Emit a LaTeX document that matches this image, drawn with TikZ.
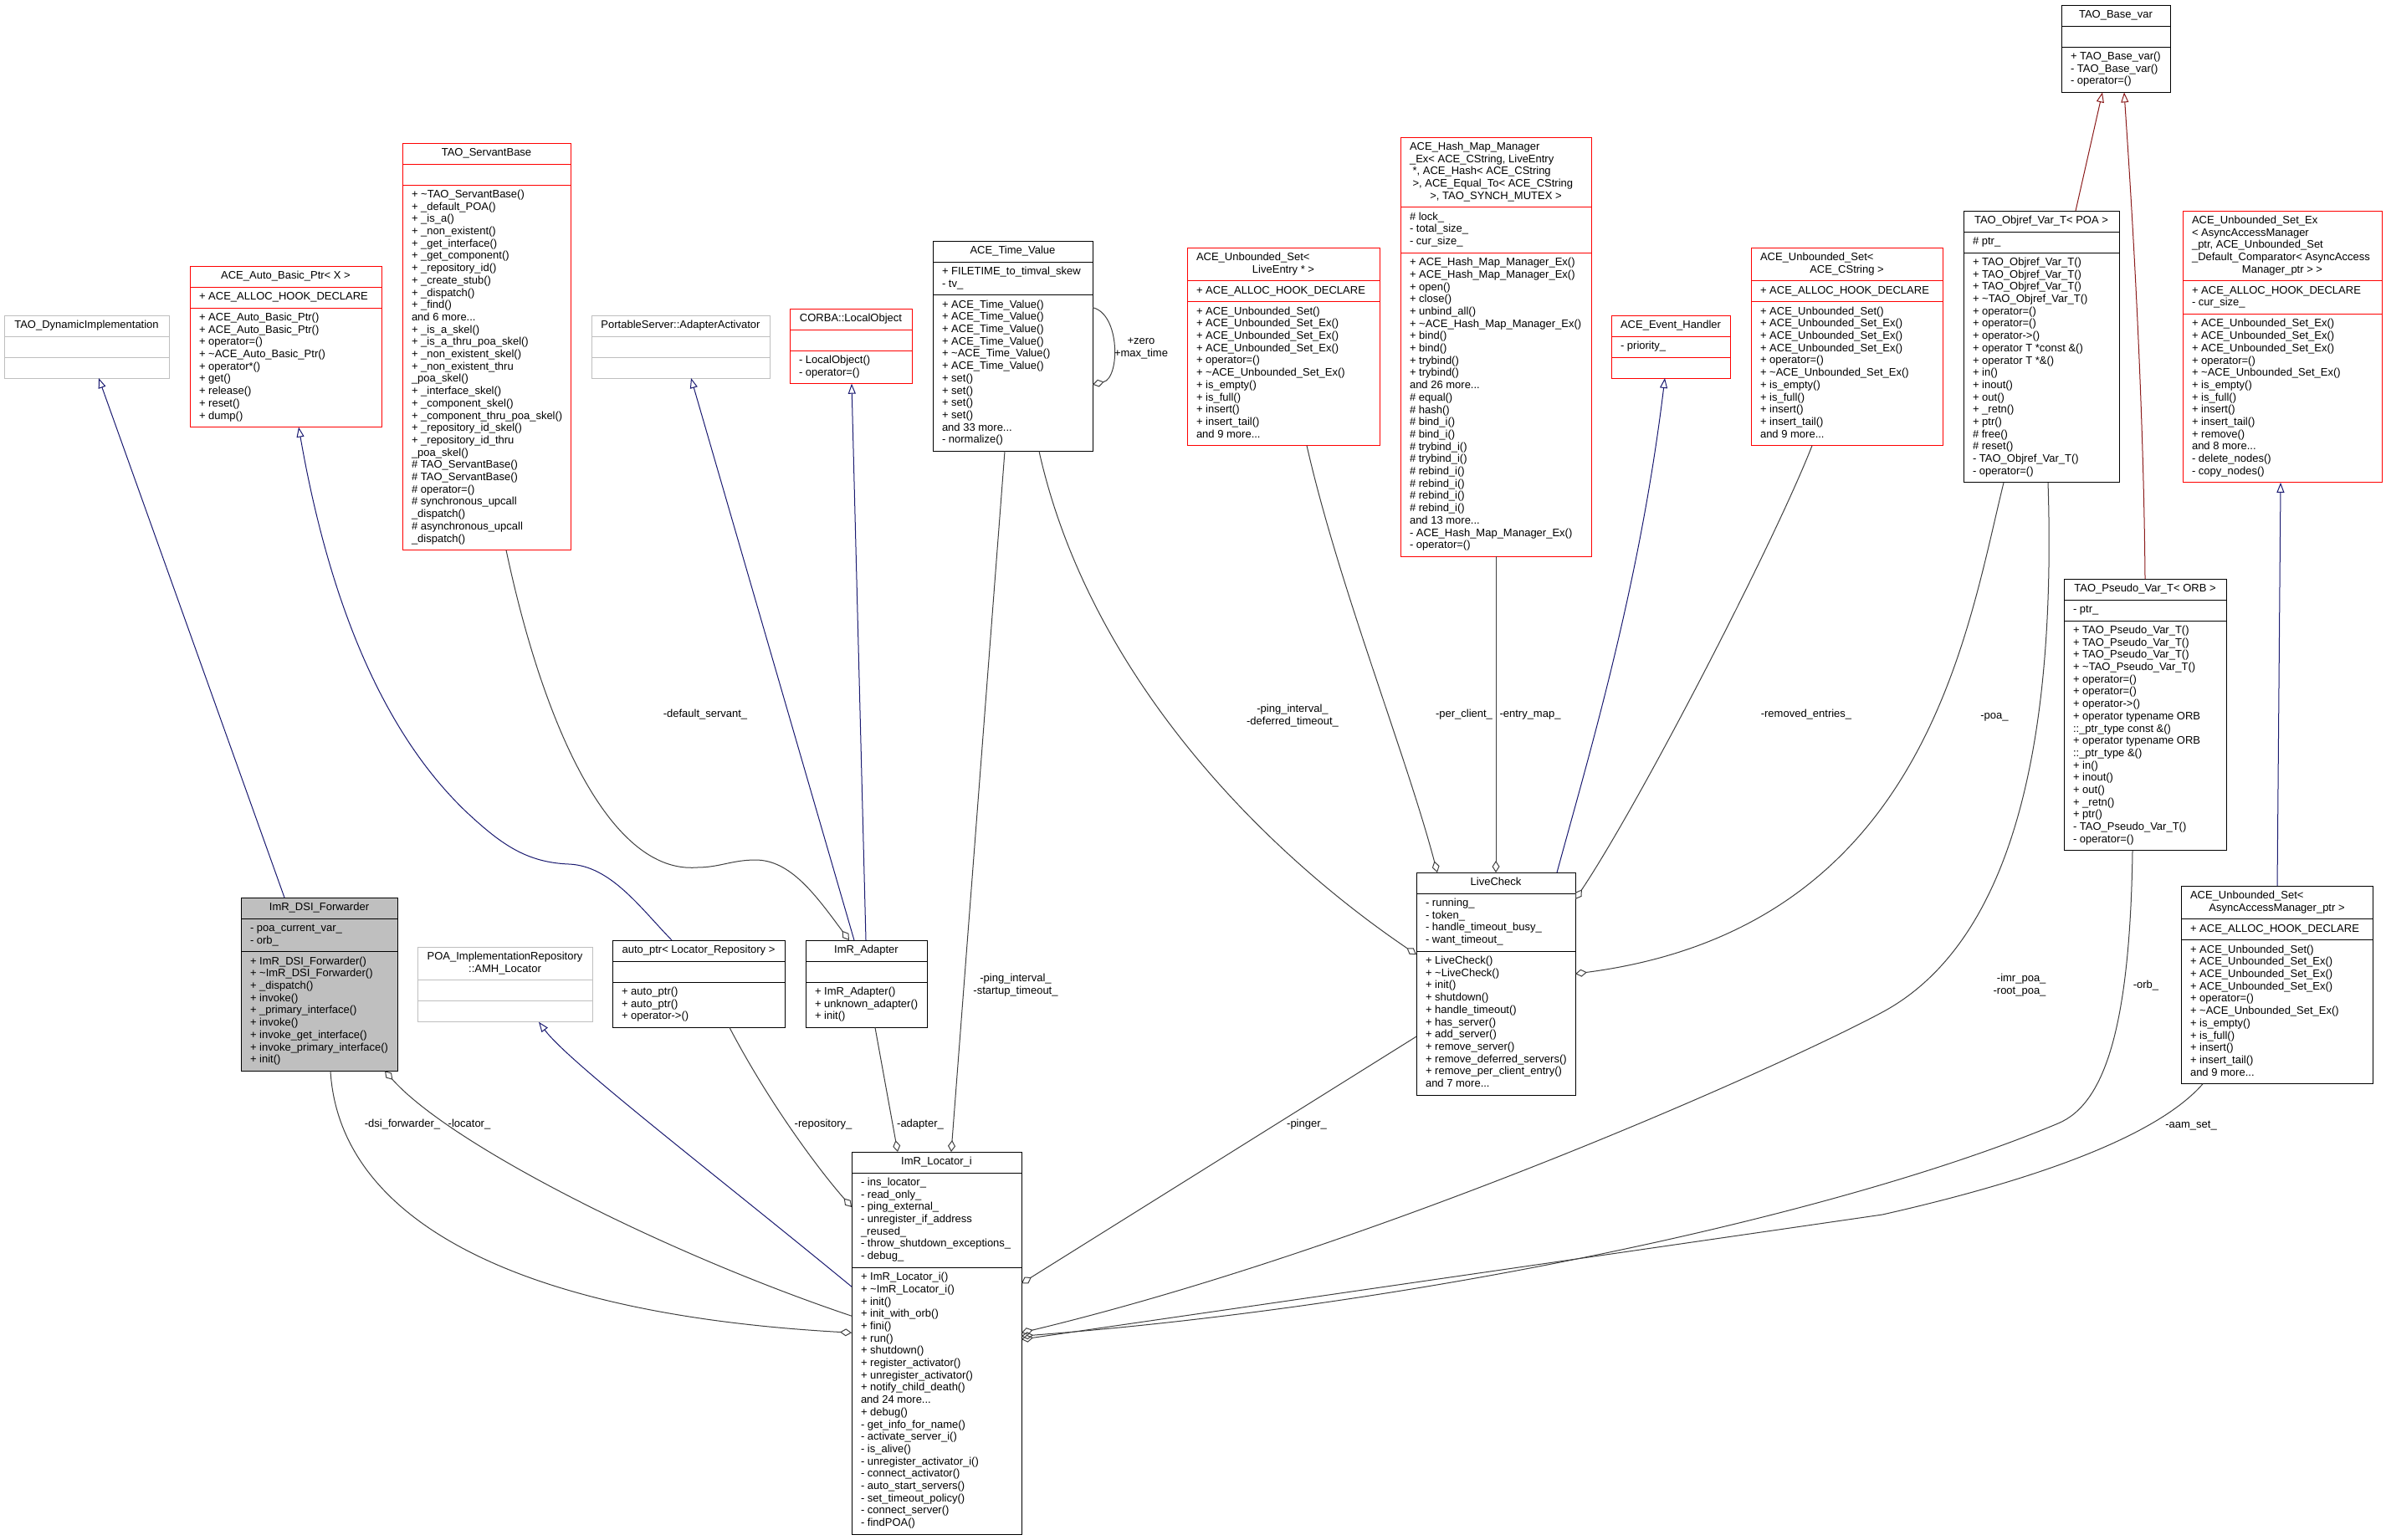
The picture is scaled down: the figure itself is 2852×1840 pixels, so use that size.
\documentclass[tikz,border=0pt]{standalone}
\usepackage{fontspec}
\setmainfont{Liberation Sans}
\usetikzlibrary{calc,arrows.meta}
\definecolor{graybd}{HTML}{BFBFBF}
\definecolor{redbd}{HTML}{FF0000}
\definecolor{inhblue}{HTML}{191970}
\definecolor{privred}{HTML}{8B1A1A}
\definecolor{usegray}{HTML}{404040}
\definecolor{dsifill}{HTML}{BFBFBF}
\newlength{\umlw}
\makeatletter
\def\uml@endmark{\uml@endmark}
\def\uml@endtok{\uml@endmark}
\def\uml@line#1{\hbox to\umlw{\strut#1\hss}}
\def\uml@cline#1{\hbox to\umlw{\hss\strut#1\hss}}
\def\uml@rest#1\\{\def\uml@tmp{#1}\ifx\uml@tmp\uml@endtok\else\uml@do{#1}\expandafter\uml@rest\fi}
\def\umllines#1{\vtop{\hrule height0pt depth0pt width\umlw\relax\let\uml@do\uml@line\uml@rest#1\\\uml@endmark\\}}
\def\umlctr#1{\vtop{\hrule height0pt depth0pt width\umlw\relax\let\uml@do\uml@cline\uml@rest#1\\\uml@endmark\\}}
\makeatother
\newcommand{\lft}[1]{\makebox[\umlw][l]{#1}}
\tikzset{
  cls/.style={draw, line width=1pt, inner xsep=11pt, inner ysep=5.15pt, outer sep=0pt,
    font=\fontsize{13pt}{14.7pt}\selectfont},
  gcls/.style={draw=graybd},
  rcls/.style={draw=redbd},
  bcls/.style={draw=black},
  dcls/.style={draw=black, fill=dsifill},
  inhedge/.style={draw=inhblue, line width=1pt, -{Triangle[open,length=12pt,width=9pt]}},
  privedge/.style={draw=privred, line width=1pt, -{Triangle[open,length=12pt,width=9pt]}},
  usageedge/.style={draw=usegray, line width=1pt, -{Diamond[open,length=14pt,width=9pt]}},
  elabel/.style={inner sep=0pt, align=center, font=\fontsize{13pt}{14.7pt}\selectfont},
}
% #1 name, #2 style, #3 top-left, #4 inner text width, #5 title, #6 attributes, #7 methods
\newcommand{\umlclass}[7]{%
  \setlength{\umlw}{#4}%
  \node[cls,#2,anchor=north west] (#1) at (#3) {\umlctr{#5}};
  \node[cls,#2,anchor=north west] (#1-a) at (#1.south west) {\umllines{#6}};
  \node[cls,#2,anchor=north west] (#1-m) at (#1-a.south west) {\umllines{#7}};
}
\begin{document}
\begin{tikzpicture}[x=1pt,y=-1pt]
\fill[white] (0,0) rectangle (2852,1840);
\useasboundingbox (0,0) rectangle (2852,1840);

% ---------- classes ----------
\umlclass{dyn}{gcls}{5,377}{175pt}{TAO\_DynamicImplementation}{}{}
\umlclass{ab}{rcls}{227,318}{207pt}{ACE\_Auto\_Basic\_Ptr< X >}{+ ACE\_ALLOC\_HOOK\_DECLARE}{+ ACE\_Auto\_Basic\_Ptr()\\+ ACE\_Auto\_Basic\_Ptr()\\+ operator=()\\+ \textasciitilde{}ACE\_Auto\_Basic\_Ptr()\\+ operator*()\\+ get()\\+ release()\\+ reset()\\+ dump()}
\umlclass{sb}{rcls}{481,171}{179pt}{TAO\_ServantBase}{}{+ \textasciitilde{}TAO\_ServantBase()\\+ \_default\_POA()\\+ \_is\_a()\\+ \_non\_existent()\\+ \_get\_interface()\\+ \_get\_component()\\+ \_repository\_id()\\+ \_create\_stub()\\+ \_dispatch()\\+ \_find()\\and 6 more...\\+ \_is\_a\_skel()\\+ \_is\_a\_thru\_poa\_skel()\\+ \_non\_existent\_skel()\\+ \_non\_existent\_thru\\\_poa\_skel()\\+ \_interface\_skel()\\+ \_component\_skel()\\+ \_component\_thru\_poa\_skel()\\+ \_repository\_id\_skel()\\+ \_repository\_id\_thru\\\_poa\_skel()\\\# TAO\_ServantBase()\\\# TAO\_ServantBase()\\\# operator=()\\\# synchronous\_upcall\\\_dispatch()\\\# asynchronous\_upcall\\\_dispatch()}
\umlclass{aa}{gcls}{707,377}{191pt}{PortableServer::AdapterActivator}{}{}
\umlclass{lo}{rcls}{944,369}{124pt}{CORBA::LocalObject}{}{- LocalObject()\\- operator=()}
\umlclass{tv}{bcls}{1115,288}{169pt}{ACE\_Time\_Value}{+ FILETIME\_to\_timval\_skew\\- tv\_}{+ ACE\_Time\_Value()\\+ ACE\_Time\_Value()\\+ ACE\_Time\_Value()\\+ ACE\_Time\_Value()\\+ \textasciitilde{}ACE\_Time\_Value()\\+ ACE\_Time\_Value()\\+ set()\\+ set()\\+ set()\\+ set()\\and 33 more...\\- normalize()}
\umlclass{sle}{rcls}{1419,296}{208pt}{\lft{ACE\_Unbounded\_Set<}\\LiveEntry * >}{+ ACE\_ALLOC\_HOOK\_DECLARE}{+ ACE\_Unbounded\_Set()\\+ ACE\_Unbounded\_Set\_Ex()\\+ ACE\_Unbounded\_Set\_Ex()\\+ ACE\_Unbounded\_Set\_Ex()\\+ operator=()\\+ \textasciitilde{}ACE\_Unbounded\_Set\_Ex()\\+ is\_empty()\\+ is\_full()\\+ insert()\\+ insert\_tail()\\and 9 more...}
\umlclass{hm}{rcls}{1674,164}{206pt}{\lft{ACE\_Hash\_Map\_Manager}\\\lft{\_Ex< ACE\_CString, LiveEntry}\\\lft{\ *, ACE\_Hash< ACE\_CString}\\\lft{\ >, ACE\_Equal\_To< ACE\_CString}\\>, TAO\_SYNCH\_MUTEX >}{\# lock\_\\- total\_size\_\\- cur\_size\_}{+ ACE\_Hash\_Map\_Manager\_Ex()\\+ ACE\_Hash\_Map\_Manager\_Ex()\\+ open()\\+ close()\\+ unbind\_all()\\+ \textasciitilde{}ACE\_Hash\_Map\_Manager\_Ex()\\+ bind()\\+ bind()\\+ trybind()\\+ trybind()\\and 26 more...\\\# equal()\\\# hash()\\\# bind\_i()\\\# bind\_i()\\\# trybind\_i()\\\# trybind\_i()\\\# rebind\_i()\\\# rebind\_i()\\\# rebind\_i()\\\# rebind\_i()\\and 13 more...\\- ACE\_Hash\_Map\_Manager\_Ex()\\- operator=()}
\umlclass{eh}{rcls}{1926,377}{120pt}{ACE\_Event\_Handler}{- priority\_}{}
\umlclass{scs}{rcls}{2093,296}{207pt}{\lft{ACE\_Unbounded\_Set<}\\ACE\_CString >}{+ ACE\_ALLOC\_HOOK\_DECLARE}{+ ACE\_Unbounded\_Set()\\+ ACE\_Unbounded\_Set\_Ex()\\+ ACE\_Unbounded\_Set\_Ex()\\+ ACE\_Unbounded\_Set\_Ex()\\+ operator=()\\+ \textasciitilde{}ACE\_Unbounded\_Set\_Ex()\\+ is\_empty()\\+ is\_full()\\+ insert()\\+ insert\_tail()\\and 9 more...}
\umlclass{or}{bcls}{2347,252}{164pt}{TAO\_Objref\_Var\_T< POA >}{\# ptr\_}{+ TAO\_Objref\_Var\_T()\\+ TAO\_Objref\_Var\_T()\\+ TAO\_Objref\_Var\_T()\\+ \textasciitilde{}TAO\_Objref\_Var\_T()\\+ operator=()\\+ operator=()\\+ operator->()\\+ operator T *const \&()\\+ operator T *\&()\\+ in()\\+ inout()\\+ out()\\+ \_retn()\\+ ptr()\\\# free()\\\# reset()\\- TAO\_Objref\_Var\_T()\\- operator=()}
\umlclass{bv}{bcls}{2464,6}{108pt}{TAO\_Base\_var}{}{+ TAO\_Base\_var()\\- TAO\_Base\_var()\\- operator=()}
\umlclass{sx}{rcls}{2609,252}{216pt}{\lft{ACE\_Unbounded\_Set\_Ex}\\\lft{< AsyncAccessManager}\\\lft{\_ptr, ACE\_Unbounded\_Set}\\\lft{\_Default\_Comparator< AsyncAccess}\\Manager\_ptr > >}{+ ACE\_ALLOC\_HOOK\_DECLARE\\- cur\_size\_}{+ ACE\_Unbounded\_Set\_Ex()\\+ ACE\_Unbounded\_Set\_Ex()\\+ ACE\_Unbounded\_Set\_Ex()\\+ operator=()\\+ \textasciitilde{}ACE\_Unbounded\_Set\_Ex()\\+ is\_empty()\\+ is\_full()\\+ insert()\\+ insert\_tail()\\+ remove()\\and 8 more...\\- delete\_nodes()\\- copy\_nodes()}
\umlclass{dsi}{dcls}{288,1073}{165pt}{ImR\_DSI\_Forwarder}{- poa\_current\_var\_\\- orb\_}{+ ImR\_DSI\_Forwarder()\\+ \textasciitilde{}ImR\_DSI\_Forwarder()\\+ \_dispatch()\\+ invoke()\\+ \_primary\_interface()\\+ invoke()\\+ invoke\_get\_interface()\\+ invoke\_primary\_interface()\\+ init()}
\umlclass{amh}{gcls}{499,1132}{187pt}{POA\_ImplementationRepository\\::AMH\_Locator}{}{}
\umlclass{ap}{bcls}{732,1124}{184pt}{auto\_ptr< Locator\_Repository >}{}{+ auto\_ptr()\\+ auto\_ptr()\\+ operator->()}
\umlclass{ad}{bcls}{963,1124}{123pt}{ImR\_Adapter}{}{+ ImR\_Adapter()\\+ unknown\_adapter()\\+ init()}
\umlclass{lc}{bcls}{1693,1043}{168pt}{LiveCheck}{- running\_\\- token\_\\- handle\_timeout\_busy\_\\- want\_timeout\_}{+ LiveCheck()\\+ \textasciitilde{}LiveCheck()\\+ init()\\+ shutdown()\\+ handle\_timeout()\\+ has\_server()\\+ add\_server()\\+ remove\_server()\\+ remove\_deferred\_servers()\\+ remove\_per\_client\_entry()\\and 7 more...}
\umlclass{ps}{bcls}{2467,692}{172pt}{TAO\_Pseudo\_Var\_T< ORB >}{- ptr\_}{+ TAO\_Pseudo\_Var\_T()\\+ TAO\_Pseudo\_Var\_T()\\+ TAO\_Pseudo\_Var\_T()\\+ \textasciitilde{}TAO\_Pseudo\_Var\_T()\\+ operator=()\\+ operator=()\\+ operator->()\\+ operator typename ORB\\::\_ptr\_type const \&()\\+ operator typename ORB\\::\_ptr\_type \&()\\+ in()\\+ inout()\\+ out()\\+ \_retn()\\+ ptr()\\- TAO\_Pseudo\_Var\_T()\\- operator=()}
\umlclass{sa}{bcls}{2607,1059}{207pt}{\lft{ACE\_Unbounded\_Set<}\\AsyncAccessManager\_ptr >}{+ ACE\_ALLOC\_HOOK\_DECLARE}{+ ACE\_Unbounded\_Set()\\+ ACE\_Unbounded\_Set\_Ex()\\+ ACE\_Unbounded\_Set\_Ex()\\+ ACE\_Unbounded\_Set\_Ex()\\+ operator=()\\+ \textasciitilde{}ACE\_Unbounded\_Set\_Ex()\\+ is\_empty()\\+ is\_full()\\+ insert()\\+ insert\_tail()\\and 9 more...}
\umlclass{loc}{bcls}{1018,1377}{181pt}{ImR\_Locator\_i}{- ins\_locator\_\\- read\_only\_\\- ping\_external\_\\- unregister\_if\_address\\\_reused\_\\- throw\_shutdown\_exceptions\_\\- debug\_}{+ ImR\_Locator\_i()\\+ \textasciitilde{}ImR\_Locator\_i()\\+ init()\\+ init\_with\_orb()\\+ fini()\\+ run()\\+ shutdown()\\+ register\_activator()\\+ unregister\_activator()\\+ notify\_child\_death()\\and 24 more...\\+ debug()\\- get\_info\_for\_name()\\- activate\_server\_i()\\- is\_alive()\\- unregister\_activator\_i()\\- connect\_activator()\\- auto\_start\_servers()\\- set\_timeout\_policy()\\- connect\_server()\\- findPOA()}

% ---------- inheritance ----------
\draw[inhedge] ($(dsi.north west)+(52,0)$) -- ($(dyn-m.south west)+(113,0)$);
\draw[inhedge] ($(ap.north west)+(71,0)$) .. controls (765,1085) and (730,1035) .. (680,1033) .. controls (630,1031) and (600,1010) .. (560,973) .. controls (450,870) and (390,700) .. ($(ab-m.south west)+(130,0)$);
\draw[inhedge] ($(loc-m.north west)+(0,23)$) .. controls (850,1400) and (680,1270) .. ($(amh-m.south west)+(145,0)$);
\draw[inhedge] ($(ad.north west)+(58,0)$) -- ($(aa-m.south west)+(119,0)$);
\draw[inhedge] ($(ad.north west)+(72,0)$) -- ($(lo-m.south west)+(74,0)$);
\draw[inhedge] ($(lc.north west)+(168,0)$) .. controls (1900,900) and (1960,700) .. ($(eh-m.south west)+(64,0)$);
\draw[inhedge] ($(sa.north west)+(115,0)$) -- ($(sx-m.south west)+(117,0)$);
\draw[privedge] ($(or.north west)+(134,0)$) -- ($(bv-m.south west)+(49,0)$);
\draw[privedge] ($(ps.north west)+(97,0)$) .. controls (2562,450) and (2545,200) .. ($(bv-m.south west)+(75,0)$);

% ---------- usage ----------
\draw[usageedge] ($(sb-m.south west)+(124,0)$) .. controls (650,870) and (730,1045) .. (833,1037) .. controls (860,1037) and (875,1028) .. (903,1028) .. controls (945,1028) and (975,1070) .. ($(ad.north west)+(52,0)$);
\draw[usageedge] ($(tv-m.south west)+(86,0)$) -- ($(loc.north west)+(119,0)$);
\draw[usageedge] ($(ad-m.south west)+(83,0)$) -- ($(loc.north west)+(55,0)$);
\draw[usageedge] ($(ap-m.south west)+(140,0)$) .. controls (920,1320) and (980,1400) .. ($(loc-a.north west)+(0,41)$);
\draw[usageedge] ($(dsi-m.south west)+(107,0)$) .. controls (405,1450) and (600,1570) .. ($(loc-m.north west)+(0,78)$);
\draw[usageedge] ($(loc-m.north west)+(0,58)$) .. controls (800,1500) and (540,1370) .. ($(dsi-m.south west)+(172,0)$);
\draw[usageedge] ($(lc-m.north west)+(0,102)$) -- ($(loc-m.north east)+(0,19)$);
\draw[usageedge] ($(tv-m.south west)+(127,0)$) .. controls (1300,800) and (1500,1010) .. ($(lc-m.north west)+(0,4)$);
\draw[usageedge] ($(tv-m.north east)+(0,15)$) .. controls (1339,375) and (1339,452) .. ($(tv-m.north east)+(0,107)$);
\draw[usageedge] ($(sle-m.south west)+(143,0)$) .. controls (1600,700) and (1680,900) .. ($(lc.north west)+(25,0)$);
\draw[usageedge] ($(hm-m.south west)+(114,0)$) -- ($(lc.north west)+(95,0)$);
\draw[usageedge] ($(scs-m.south west)+(73,0)$) .. controls (2120,650) and (1960,960) .. ($(lc-a.north east)+(0,7)$);
\draw[usageedge] ($(or-m.south west)+(48,0)$) .. controls (2350,760) and (2300,1110) .. ($(lc-m.north east)+(0,27)$);
\draw[usageedge] ($(or-m.south west)+(101,0)$) .. controls (2460,950) and (2380,1140) .. (2250,1210) .. controls (2133,1273) and (1650,1490) .. ($(loc-m.north east)+(0,78)$);
\draw[usageedge] ($(ps-m.south west)+(82,0)$) .. controls (2546,1230) and (2515,1320) .. (2460,1343) .. controls (2200,1452) and (1700,1560) .. ($(loc-m.north east)+(0,82)$);
\draw[usageedge] ($(sa-m.south west)+(26,0)$) .. controls (2590,1345) and (2480,1400) .. (2250,1452) -- ($(loc-m.north east)+(0,86)$);

% ---------- labels ----------
\node[elabel] (lb1) at (843,855) {\strut-default\_servant\_\strut};
\node[elabel] (lb2) at (1545,856) {\strut-ping\_interval\_\\-deferred\_timeout\_\strut};
\node[elabel] (lb3) at (1750,855) {\strut-per\_client\_\strut};
\node[elabel] (lb4) at (1829,855) {\strut-entry\_map\_\strut};
\node[elabel] (lb5) at (2159,855) {\strut-removed\_entries\_\strut};
\node[elabel] (lb6) at (2384,857) {\strut-poa\_\strut};
\node[elabel] (lb7) at (1364,416) {\strut+zero\\+max\_time\strut};
\node[elabel] (lb8) at (1214,1178) {\strut-ping\_interval\_\\-startup\_timeout\_\strut};
\node[elabel,align=right] (lb9) at (2414,1178) {\strut-imr\_poa\_\\-root\_poa\_\strut};
\node[elabel] (lb10) at (2565,1179) {\strut-orb\_\strut};
\node[elabel] (lb11) at (2619,1346) {\strut-aam\_set\_\strut};
\node[elabel] (lb12) at (1562,1345) {\strut-pinger\_\strut};
\node[elabel] (lb13) at (481,1345) {\strut-dsi\_forwarder\_\strut};
\node[elabel] (lb14) at (561,1345) {\strut-locator\_\strut};
\node[elabel] (lb15) at (984,1345) {\strut-repository\_\strut};
\node[elabel] (lb16) at (1100,1345) {\strut-adapter\_\strut};
\end{tikzpicture}
\end{document}
